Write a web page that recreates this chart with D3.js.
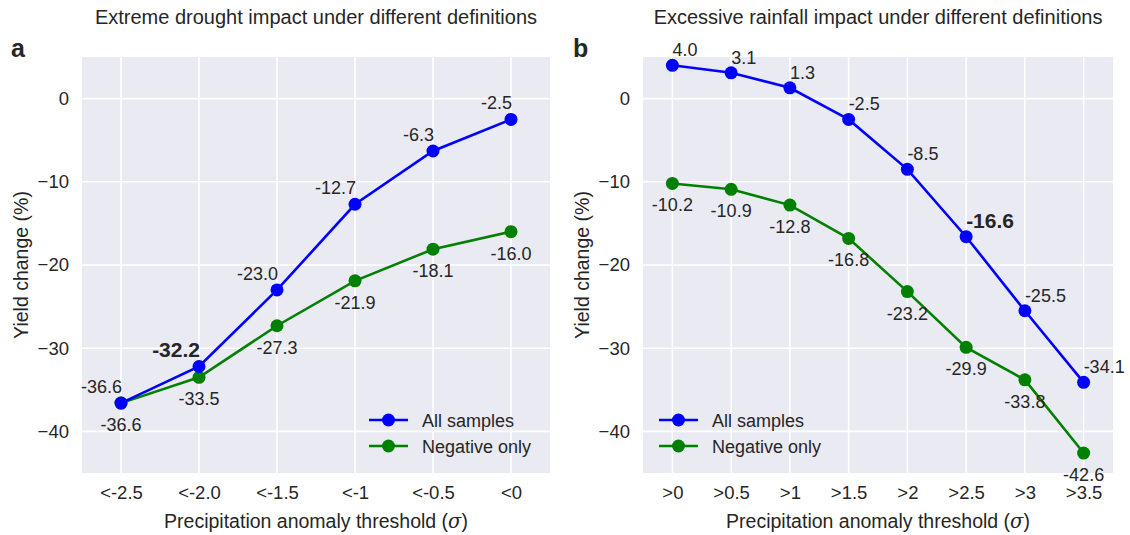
<!DOCTYPE html>
<html>
<head>
<meta charset="utf-8">
<script src="https://cdn.jsdelivr.net/npm/d3@7"></script>
<style>
  html, body { margin: 0; padding: 0; background: #fff; }
  svg text { font-family: "Liberation Sans", Arial, sans-serif; fill: #262626; }
</style>
</head>
<body>
<svg id="chart" width="1130" height="535"></svg>
<script>
// Precipitation anomaly thresholds
const droughtThresholds = ["<-2.5", "<-2.0", "<-1.5", "<-1", "<-0.5", "<0"];
const rainThresholds = [">0", ">0.5", ">1", ">1.5", ">2", ">2.5", ">3", ">3.5"];

// Yield change (%) for each threshold
const droughtAll = [-36.6, -32.2, -23.0, -12.7, -6.3, -2.5];
const droughtNeg = [-36.6, -33.5, -27.3, -21.9, -18.1, -16.0];
const rainAll = [4.0, 3.1, 1.3, -2.5, -8.5, -16.6, -25.5, -34.1];
const rainNeg = [-10.2, -10.9, -12.8, -16.8, -23.2, -29.9, -33.8, -42.6];

// Emphasised point (index) on the "All samples" line of each panel
const droughtHighlight = 1;
const rainHighlight = 5;

const yTicks = [0, -10, -20, -30, -40];
const yDomain = [-45, 5];
const seriesNames = ["All samples", "Negative only"];
const seriesColors = ["#0000ff", "#008000"];

const svg = d3.select("#chart");

function panel(opts) {
  const { left, right, top, bottom, cats, all, neg, highlight, title, letter,
          letterX, ylabelX, allAnchor, allOffset, negOffset, legendX } = opts;
  const g = svg.append("g");

  const x = d3.scalePoint().domain(cats).range([left, right]).padding(0.5);
  const y = d3.scaleLinear().domain(yDomain).range([bottom, top]);

  // background
  g.append("rect").attr("x", left).attr("y", top)
    .attr("width", right - left).attr("height", bottom - top)
    .attr("fill", "#eaeaf2");

  // grid
  g.selectAll(".hg").data(yTicks).join("line")
    .attr("x1", left).attr("x2", right)
    .attr("y1", d => y(d)).attr("y2", d => y(d))
    .attr("stroke", "#fff").attr("stroke-width", 1.6);
  g.selectAll(".vg").data(cats).join("line")
    .attr("x1", d => x(d)).attr("x2", d => x(d))
    .attr("y1", top).attr("y2", bottom)
    .attr("stroke", "#fff").attr("stroke-width", 1.6);

  // axes
  const xAxis = d3.axisBottom(x).tickSize(0).tickPadding(13);
  const xa = g.append("g").attr("transform", `translate(0,${bottom})`).call(xAxis);
  xa.select(".domain").remove();
  xa.selectAll("text").attr("font-size", 18.5).style("fill", "#262626");

  const yAxis = d3.axisLeft(y).tickValues(yTicks).tickSize(0).tickPadding(13)
    .tickFormat(d => d3.format("d")(d).replace("-", "\u2212"));
  const ya = g.append("g").attr("transform", `translate(${left},0)`).call(yAxis);
  ya.select(".domain").remove();
  ya.selectAll("text").attr("font-size", 18.5).style("fill", "#262626");

  // titles and labels
  const cx = (left + right) / 2;
  g.append("text").attr("x", cx).attr("y", 24).attr("text-anchor", "middle")
    .attr("font-size", 20).text(title);
  g.append("text").attr("x", letterX).attr("y", 57).attr("font-size", 25)
    .attr("font-weight", "bold").text(letter);
  const xl = g.append("text").attr("x", cx).attr("y", 528).attr("text-anchor", "middle")
    .attr("font-size", 19.5);
  xl.append("tspan").text("Precipitation anomaly threshold (");
  xl.append("tspan").attr("font-family", "DejaVu Serif, serif").attr("font-style", "italic").text("\u03c3");
  xl.append("tspan").text(")");
  g.append("text")
    .attr("transform", `translate(${ylabelX},${(top + bottom) / 2}) rotate(-90)`)
    .attr("text-anchor", "middle").attr("font-size", 19.5).text("Yield change (%)");

  // series
  const line = d3.line().x((d, i) => x(cats[i])).y(d => y(d));
  [neg, all].forEach((vals, k) => {
    const color = k === 0 ? seriesColors[1] : seriesColors[0];
    g.append("path").datum(vals).attr("d", line).attr("fill", "none")
      .attr("stroke", color).attr("stroke-width", 2.6);
    g.selectAll(null).data(vals).join("circle")
      .attr("cx", (d, i) => x(cats[i])).attr("cy", d => y(d)).attr("r", 6.5)
      .attr("fill", color);
  });

  // value labels
  g.selectAll(null).data(neg).join("text")
    .attr("x", (d, i) => x(cats[i]) + negOffset[0])
    .attr("y", d => y(d) + negOffset[1])
    .attr("text-anchor", "middle").attr("font-size", 18)
    .text(d => d.toFixed(1));
  g.selectAll(null).data(all).join("text")
    .attr("x", (d, i) => x(cats[i]) + allOffset[0])
    .attr("y", d => y(d) + allOffset[1])
    .attr("text-anchor", allAnchor)
    .attr("font-size", (d, i) => i === highlight ? 21 : 18)
    .attr("font-weight", (d, i) => i === highlight ? "bold" : "normal")
    .text(d => d.toFixed(1));

  // legend
  const lg = g.append("g").attr("transform", `translate(${legendX},420)`);
  seriesNames.forEach((name, i) => {
    const row = lg.append("g").attr("transform", `translate(0,${i * 26})`);
    row.append("line").attr("x1", 0).attr("x2", 39).attr("y1", 0).attr("y2", 0)
      .attr("stroke", seriesColors[i]).attr("stroke-width", 2.6);
    row.append("circle").attr("cx", 19.5).attr("cy", 0).attr("r", 6.5).attr("fill", seriesColors[i]);
    row.append("text").attr("x", 53).attr("y", 6.5).attr("font-size", 18).text(name);
  });
}

panel({
  left: 82, right: 550, top: 57, bottom: 473,
  cats: droughtThresholds, all: droughtAll, neg: droughtNeg, highlight: droughtHighlight,
  title: "Extreme drought impact under different definitions", letter: "a",
  letterX: 11, ylabelX: 28, allAnchor: "end", allOffset: [1, -10], negOffset: [0, 28],
  legendX: 369
});

panel({
  left: 643, right: 1113, top: 57, bottom: 473,
  cats: rainThresholds, all: rainAll, neg: rainNeg, highlight: rainHighlight,
  title: "Excessive rainfall impact under different definitions", letter: "b",
  letterX: 573, ylabelX: 589, allAnchor: "start", allOffset: [0, -9], negOffset: [0, 28],
  legendX: 659
});
</script>
</body>
</html>
